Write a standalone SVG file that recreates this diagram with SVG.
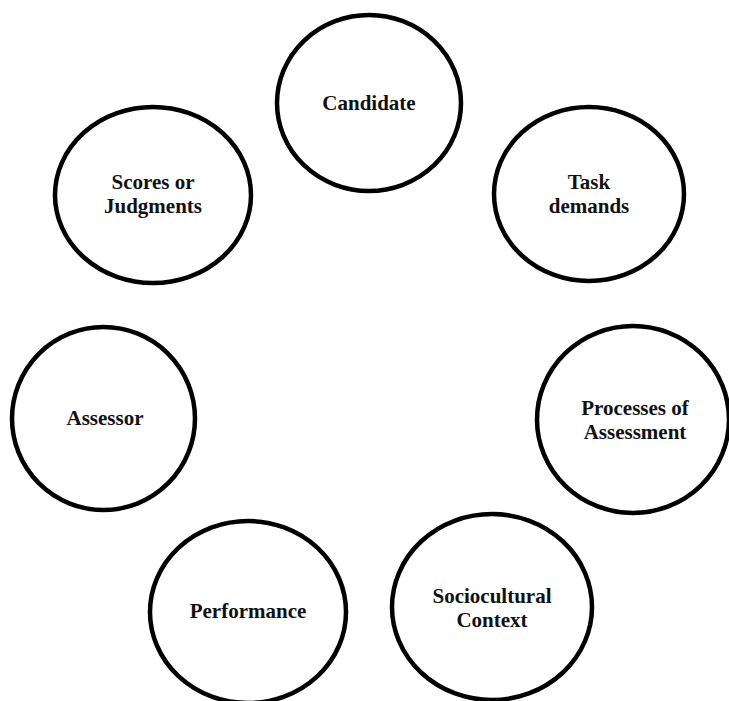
<svg xmlns="http://www.w3.org/2000/svg" width="729" height="701" viewBox="0 0 729 701">
  <style>
    .node ellipse { fill: #ffffff; stroke: #000000; stroke-width: 4.5; }
    .node text { font-family: "Liberation Serif", "Times New Roman", serif; font-weight: bold; font-size: 21px; fill: #111111; text-anchor: middle; }
  </style>
  <rect width="729" height="701" fill="#ffffff"/>
  <g id="connectors"></g>

  <g id="candidate" class="node">
    <ellipse cx="369" cy="103" rx="92" ry="88"/>
    <text x="369" y="110">Candidate</text>
  </g>

  <g id="task-demands" class="node">
    <ellipse cx="589" cy="194" rx="95" ry="87"/>
    <text x="589" y="189">Task</text>
    <text x="589" y="213">demands</text>
  </g>

  <g id="scores-judgments" class="node">
    <ellipse cx="153" cy="195" rx="98" ry="88"/>
    <text x="153" y="189">Scores or</text>
    <text x="153" y="213">Judgments</text>
  </g>

  <g id="assessor" class="node">
    <ellipse cx="103.5" cy="418.5" rx="91.5" ry="91.5"/>
    <text x="105" y="425">Assessor</text>
  </g>

  <g id="processes-assessment" class="node">
    <ellipse cx="633" cy="419.5" rx="96" ry="93.5"/>
    <text x="635" y="415">Processes of</text>
    <text x="635" y="439">Assessment</text>
  </g>

  <g id="performance" class="node">
    <ellipse cx="248" cy="612" rx="98" ry="91"/>
    <text x="248" y="618">Performance</text>
  </g>

  <g id="sociocultural-context" class="node">
    <ellipse cx="492" cy="607" rx="100" ry="93"/>
    <text x="492" y="603">Sociocultural</text>
    <text x="492" y="627">Context</text>
  </g>
</svg>
